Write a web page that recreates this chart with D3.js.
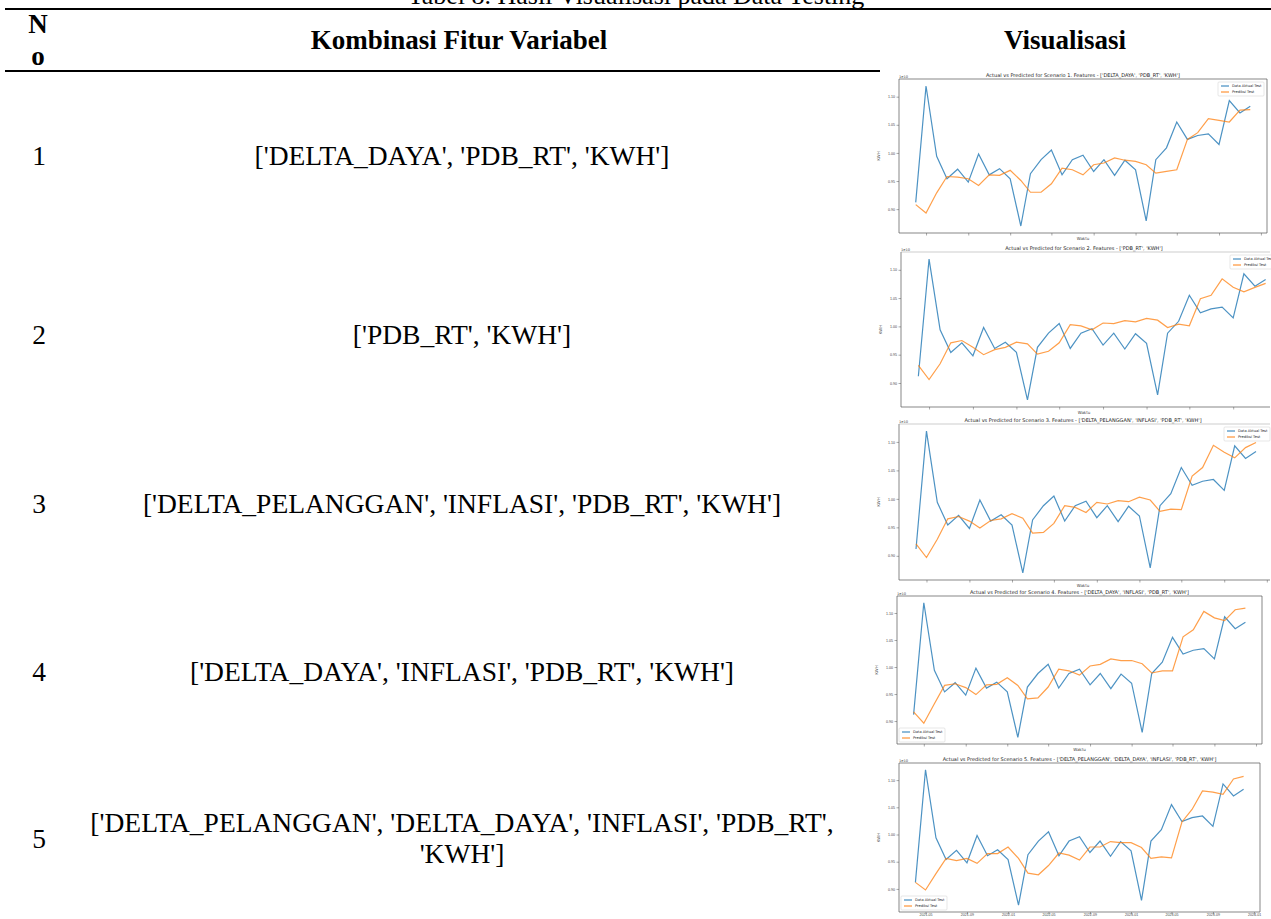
<!DOCTYPE html>
<html>
<head>
<meta charset="utf-8">
<script src="https://cdn.jsdelivr.net/npm/d3@7"></script>
<style>
  html, body { margin: 0; padding: 0; background: #fff; }
  svg { display: block; }
</style>
</head>
<body>
<div id="chart"></div>
<script>
// table rows
const rowNumbers = ["1", "2", "3", "4", "5"];
const rowFeatures = [
    ["['DELTA_DAYA', 'PDB_RT', 'KWH']"],
    ["['PDB_RT', 'KWH']"],
    ["['DELTA_PELANGGAN', 'INFLASI', 'PDB_RT', 'KWH']"],
    ["['DELTA_DAYA', 'INFLASI', 'PDB_RT', 'KWH']"],
    ["['DELTA_PELANGGAN', 'DELTA_DAYA', 'INFLASI', 'PDB_RT',", "'KWH']"]
];

// monthly test period
const months = ["2021-04", "2021-05", "2021-06", "2021-07", "2021-08", "2021-09", "2021-10", "2021-11", "2021-12",
    "2022-01", "2022-02", "2022-03", "2022-04", "2022-05", "2022-06", "2022-07", "2022-08", "2022-09", "2022-10",
    "2022-11", "2022-12", "2023-01", "2023-02", "2023-03", "2023-04", "2023-05", "2023-06", "2023-07", "2023-08",
    "2023-09", "2023-10", "2023-11", "2023-12"];

// KWH (x 1e10)
const actual = [0.912, 1.119, 0.994, 0.954, 0.971, 0.948, 0.998, 0.961, 0.972, 0.954, 0.870, 0.963, 0.988, 1.005,
    0.961, 0.988, 0.996, 0.967, 0.988, 0.960, 0.987, 0.970, 0.879, 0.988, 1.009, 1.055, 1.024, 1.031, 1.034,
    1.015, 1.093, 1.071, 1.083];

const predicted1 = [0.908, 0.893, 0.929, 0.958, 0.957, 0.954, 0.942, 0.961, 0.960, 0.969, 0.951, 0.930, 0.930,
    0.945, 0.973, 0.970, 0.961, 0.979, 0.982, 0.991, 0.987, 0.985, 0.979, 0.964, 0.967, 0.970, 1.024, 1.036,
    1.061, 1.058, 1.055, 1.076, 1.077];
const predicted2 = [0.931, 0.906, 0.934, 0.971, 0.975, 0.963, 0.950, 0.959, 0.963, 0.972, 0.969, 0.951, 0.956,
    0.971, 1.003, 1.001, 0.994, 1.006, 1.005, 1.010, 1.008, 1.014, 1.011, 0.998, 1.004, 1.001, 1.049, 1.055,
    1.084, 1.069, 1.061, 1.069, 1.076];
const predicted3 = [0.921, 0.897, 0.929, 0.965, 0.969, 0.961, 0.949, 0.962, 0.965, 0.974, 0.966, 0.940, 0.941,
    0.957, 0.988, 0.985, 0.976, 0.994, 0.991, 0.997, 0.995, 1.003, 0.998, 0.978, 0.982, 0.981, 1.040, 1.055,
    1.094, 1.082, 1.072, 1.090, 1.099];
const predicted4 = [0.917, 0.896, 0.932, 0.966, 0.969, 0.962, 0.949, 0.967, 0.968, 0.980, 0.966, 0.941, 0.943,
    0.963, 0.996, 0.993, 0.985, 1.002, 1.005, 1.015, 1.012, 1.012, 1.006, 0.989, 0.993, 0.993, 1.056, 1.069,
    1.103, 1.091, 1.086, 1.106, 1.109];
const predicted5 = [0.912, 0.898, 0.928, 0.956, 0.952, 0.956, 0.947, 0.965, 0.965, 0.977, 0.956, 0.929, 0.926,
    0.943, 0.966, 0.962, 0.953, 0.977, 0.977, 0.987, 0.985, 0.985, 0.976, 0.956, 0.959, 0.957, 1.023, 1.046,
    1.080, 1.078, 1.074, 1.102, 1.107];
const predictedSeries = [predicted1, predicted2, predicted3, predicted4, predicted5];

const chartTitles = [
    "Actual vs Predicted for Scenario 1. Features - ['DELTA_DAYA', 'PDB_RT', 'KWH']",
    "Actual vs Predicted for Scenario 2. Features - ['PDB_RT', 'KWH']",
    "Actual vs Predicted for Scenario 3. Features - ['DELTA_PELANGGAN', 'INFLASI', 'PDB_RT', 'KWH']",
    "Actual vs Predicted for Scenario 4. Features - ['DELTA_DAYA', 'INFLASI', 'PDB_RT', 'KWH']",
    "Actual vs Predicted for Scenario 5. Features - ['DELTA_PELANGGAN', 'DELTA_DAYA', 'INFLASI', 'PDB_RT', 'KWH']"
];
const legendLabels = ["Data Aktual Test", "Prediksi Test"];
const xTicks = ["2021-05", "2021-09", "2022-01", "2022-05", "2022-09", "2023-01", "2023-05", "2023-09", "2024-01"];
const yTicks = [0.90, 0.95, 1.00, 1.05, 1.10];

const W = 1271, H = 919;
const svg = d3.select("#chart").append("svg")
    .attr("width", W).attr("height", H)
    .attr("font-family", "'Liberation Serif', 'Times New Roman', serif");

// ---- table part ----
const rowY = [165, 344, 513, 681, 832];

svg.append("text")
    .attr("x", 636).attr("y", 4)
    .attr("text-anchor", "middle")
    .attr("font-size", 26)
    .text("Tabel 8. Hasil Visualisasi pada Data Testing");

svg.append("line")
    .attr("x1", 5).attr("x2", W).attr("y1", 9).attr("y2", 9)
    .attr("stroke", "#000").attr("stroke-width", 2);
svg.append("line")
    .attr("x1", 5).attr("x2", 880).attr("y1", 71).attr("y2", 71)
    .attr("stroke", "#000").attr("stroke-width", 2);

const head = svg.append("g").attr("font-weight", "bold").attr("text-anchor", "middle").attr("font-size", 27);
head.append("text").attr("x", 38).attr("y", 33).text("N");
head.append("text").attr("x", 38).attr("y", 65).text("o");
head.append("text").attr("x", 459).attr("y", 49).text("Kombinasi Fitur Variabel");
head.append("text").attr("x", 1065).attr("y", 49).text("Visualisasi");

const rows = svg.append("g").attr("font-size", 27.5).attr("text-anchor", "middle");
rows.selectAll(".num")
    .data(rowNumbers)
    .join("text")
    .attr("class", "num")
    .attr("x", 39)
    .attr("y", (d, i) => rowY[i] + (i === 4 ? 16 : 0))
    .text(d => d);
rowFeatures.forEach((lines, i) => {
    rows.selectAll(".feat" + i)
        .data(lines)
        .join("text")
        .attr("class", "feat" + i)
        .attr("x", 462)
        .attr("y", (d, j) => rowY[i] + j * 31)
        .text(d => d);
});

// ---- the five small matplotlib-like charts ----
const panels = [
    {l: 899, t: 79, r: 1267, b: 233, legend: "upper right", tickLabels: false},
    {l: 901, t: 252, r: 1283, b: 407, legend: "upper right", tickLabels: false},
    {l: 899, t: 424, r: 1273, b: 580, legend: "upper right", tickLabels: false},
    {l: 897, t: 596, r: 1262, b: 744, legend: "lower left", tickLabels: false},
    {l: 899, t: 763, r: 1260, b: 912, legend: "lower left", tickLabels: true}
];
const parse = d3.timeParse("%Y-%m");
const dates = months.map(parse);
const blue = "#1f77b4", orange = "#ff7f0e";

panels.forEach((p, k) => {
    const pred = predictedSeries[k];
    const g = svg.append("g").attr("font-family", "'DejaVu Sans', sans-serif");

    // matplotlib style 5% margins
    const dx = d3.extent(dates);
    const spanX = dx[1] - dx[0];
    const x = d3.scaleTime()
        .domain([new Date(+dx[0] - spanX * 0.05), new Date(+dx[1] + spanX * 0.05)])
        .range([p.l, p.r]);
    const all = actual.concat(pred);
    const dy = d3.extent(all);
    const spanY = dy[1] - dy[0];
    const y = d3.scaleLinear()
        .domain([dy[0] - spanY * 0.05, dy[1] + spanY * 0.05])
        .range([p.b, p.t]);

    g.append("rect")
        .attr("x", p.l).attr("y", p.t)
        .attr("width", Math.min(p.r, W) - p.l).attr("height", p.b - p.t)
        .attr("fill", "#fff");

    const line = d3.line()
        .x((d, i) => x(dates[i]))
        .y(d => y(d));

    g.append("path")
        .datum(actual)
        .attr("fill", "none")
        .attr("stroke", blue)
        .attr("stroke-opacity", 0.8)
        .attr("stroke-width", 1.2)
        .attr("d", line);
    g.append("path")
        .datum(pred)
        .attr("fill", "none")
        .attr("stroke", orange)
        .attr("stroke-opacity", 0.75)
        .attr("stroke-width", 1.2)
        .attr("d", line);

    // axes
    const xAxis = d3.axisBottom(x)
        .tickValues(xTicks.map(parse))
        .tickSize(2.5)
        .tickFormat(p.tickLabels ? d3.timeFormat("%Y-%m") : "");
    const gx = g.append("g")
        .attr("transform", `translate(0,${p.b})`)
        .call(xAxis);
    gx.select(".domain").remove();
    gx.selectAll("line").attr("stroke", "#555").attr("stroke-width", 0.5);
    gx.selectAll("text").attr("font-size", 3.6).attr("fill", "#444").attr("dy", "0.3em").attr("y", 3);

    const yAxis = d3.axisLeft(y)
        .tickValues(yTicks)
        .tickSize(2.5)
        .tickFormat(d3.format(".2f"));
    const gy = g.append("g")
        .attr("transform", `translate(${p.l},0)`)
        .call(yAxis);
    gy.select(".domain").remove();
    gy.selectAll("line").attr("stroke", "#555").attr("stroke-width", 0.5);
    gy.selectAll("text").attr("font-size", 3.6).attr("fill", "#444").attr("x", -4);

    // spines
    const right = Math.min(p.r, W - 1);
    g.append("path")
        .attr("d", `M${p.l},${p.t}V${p.b}H${right}` + (p.r < W ? `V${p.t}H${p.l}` : ""))
        .attr("fill", "none")
        .attr("stroke", "#555")
        .attr("stroke-width", 0.7);
    if (p.r >= W) {
        g.append("line")
            .attr("x1", p.l).attr("x2", right).attr("y1", p.t).attr("y2", p.t)
            .attr("stroke", "#999").attr("stroke-width", 0.5);
    }

    g.append("text")
        .attr("x", (p.l + Math.min(p.r, 1267)) / 2).attr("y", p.t - 2)
        .attr("text-anchor", "middle")
        .attr("font-size", 5)
        .attr("fill", "#222")
        .text(chartTitles[k]);
    g.append("text")
        .attr("x", p.l).attr("y", p.t - 1)
        .attr("font-size", 3.6)
        .attr("fill", "#444")
        .text("1e10");
    g.append("text")
        .attr("x", (p.l + Math.min(p.r, 1267)) / 2).attr("y", p.b + (p.tickLabels ? 12 : 7))
        .attr("text-anchor", "middle")
        .attr("font-size", 4)
        .attr("fill", "#444")
        .text("Waktu");
    g.append("text")
        .attr("transform", `translate(${p.l - 19},${(p.t + p.b) / 2}) rotate(-90)`)
        .attr("text-anchor", "middle")
        .attr("font-size", 4)
        .attr("fill", "#444")
        .text("KWH");

    // legend
    const lw = 46, lh = 14;
    const lx = p.legend === "upper right" ? Math.min(p.r, W + 8) - lw - 3 : p.l + 2;
    const ly = p.legend === "upper right" ? p.t + 3 : p.b - lh - 2;
    const lg = g.append("g").attr("transform", `translate(${lx},${ly})`);
    lg.append("rect")
        .attr("width", lw).attr("height", lh).attr("rx", 1)
        .attr("fill", "#fff").attr("stroke", "#ccc").attr("stroke-width", 0.5);
    lg.selectAll("g")
        .data(legendLabels)
        .join("g")
        .attr("transform", (d, i) => `translate(3,${4 + i * 6})`)
        .each(function (d, i) {
            const e = d3.select(this);
            e.append("line")
                .attr("x1", 0).attr("x2", 8)
                .attr("stroke", i === 0 ? blue : orange)
                .attr("stroke-width", 1);
            e.append("text")
                .attr("x", 11).attr("dy", "0.35em")
                .attr("font-size", 3.6)
                .attr("fill", "#222")
                .text(d);
        });
});
</script>
</body>
</html>
